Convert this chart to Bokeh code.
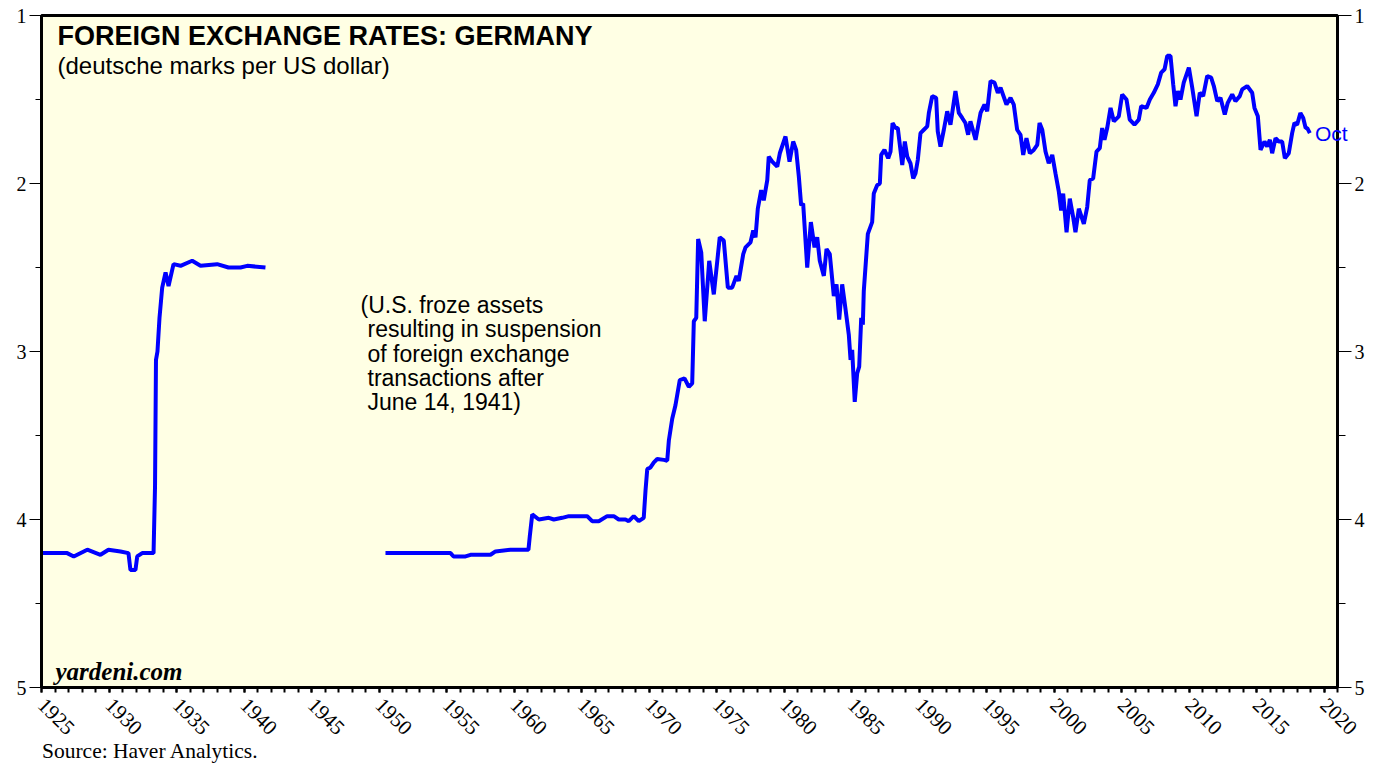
import math
from bokeh.plotting import figure
from bokeh.models import Range1d, LinearAxis, FixedTicker, Label, Div
from bokeh.layouts import column
from bokeh.embed import file_html
from bokeh.resources import INLINE

# ---------------- data ----------------
years_prewar = [1925.00, 1926.90, 1927.39, 1928.39, 1929.37, 1929.96, 1930.85, 1931.44,
                1931.59, 1931.96, 1932.09, 1932.46, 1933.30, 1933.41, 1933.48, 1933.59,
                1933.74, 1933.94, 1934.19, 1934.41, 1934.78, 1935.30, 1936.16, 1936.78,
                1938.01, 1938.85, 1939.74, 1940.24, 1941.59]
dm_prewar = [4.20, 4.20, 4.22, 4.18, 4.21, 4.18, 4.19, 4.20,
             4.30, 4.30, 4.22, 4.20, 4.20, 3.80, 3.05, 3.00,
             2.80, 2.62, 2.53, 2.61, 2.48, 2.49, 2.46, 2.49,
             2.48, 2.50, 2.50, 2.49, 2.50]

years_postwar = [
    1950.48, 1955.30, 1955.52, 1956.41, 1956.78, 1958.26, 1958.63, 1959.74, 1961.07, 1961.17,
    1961.35, 1961.84, 1962.58, 1962.95, 1963.57, 1964.06, 1965.42, 1965.79, 1966.28, 1966.90,
    1967.39, 1967.76, 1968.26, 1968.50, 1968.87, 1969.24, 1969.61, 1969.74, 1969.87, 1970.11,
    1970.36, 1970.61, 1971.10, 1971.35, 1971.47, 1971.72, 1971.96, 1972.28, 1972.63, 1972.95,
    1973.20, 1973.32, 1973.50, 1973.64, 1973.87, 1974.13, 1974.46, 1974.80, 1975.24, 1975.54,
    1975.84, 1976.16, 1976.48, 1976.65, 1976.98, 1977.15, 1977.52, 1977.72, 1977.89, 1978.06,
    1978.31, 1978.50, 1978.76, 1978.87, 1979.13, 1979.50, 1979.69, 1980.11, 1980.41, 1980.68,
    1980.90, 1981.10, 1981.27, 1981.42, 1981.72, 1981.99, 1982.26, 1982.46, 1982.65, 1982.95,
    1983.15, 1983.39, 1983.69, 1983.89, 1984.09, 1984.31, 1984.56, 1984.80, 1984.93, 1985.05,
    1985.24, 1985.42, 1985.57, 1985.72, 1985.84, 1985.91, 1986.21, 1986.53, 1986.65, 1986.90,
    1987.10, 1987.20, 1987.44, 1987.72, 1987.89, 1988.04, 1988.26, 1988.43, 1988.76, 1988.95,
    1989.13, 1989.37, 1989.57, 1989.74, 1989.91, 1990.11, 1990.36, 1990.61, 1990.73, 1990.98,
    1991.27, 1991.39, 1991.59, 1991.84, 1992.09, 1992.33, 1992.70, 1992.95, 1993.20, 1993.44,
    1993.64, 1993.81, 1994.19, 1994.56, 1994.85, 1995.05, 1995.30, 1995.59, 1995.84, 1996.04,
    1996.48, 1996.78, 1997.02, 1997.27, 1997.52, 1997.72, 1997.96, 1998.21, 1998.50, 1998.76,
    1998.93, 1999.13, 1999.37, 1999.61, 1999.87, 2000.11, 2000.36, 2000.53, 2000.68, 2000.93,
    2001.17, 2001.42, 2001.59, 2001.84, 2002.21, 2002.46, 2002.65, 2002.90, 2003.15, 2003.39,
    2003.57, 2003.74, 2003.94, 2004.19, 2004.43, 2004.80, 2005.05, 2005.37, 2005.61, 2005.96,
    2006.28, 2006.46, 2006.85, 2007.10, 2007.39, 2007.69, 2007.94, 2008.19, 2008.39, 2008.63,
    2008.83, 2009.00, 2009.17, 2009.37, 2009.61, 2009.99, 2010.24, 2010.56, 2010.80, 2011.05,
    2011.35, 2011.64, 2011.84, 2012.09, 2012.33, 2012.65, 2012.87, 2013.20, 2013.44, 2013.76,
    2013.94, 2014.31, 2014.68, 2014.85, 2015.10, 2015.30, 2015.59, 2015.79, 2015.99, 2016.16,
    2016.41, 2016.65, 2016.90, 2017.10, 2017.39, 2017.64, 2017.81, 2018.01, 2018.25, 2018.46,
    2018.64, 2018.76, 2018.95]
dm_postwar = [
    4.20, 4.20, 4.22, 4.22, 4.21, 4.21, 4.19, 4.18, 4.18, 4.10,
    3.97, 4.00, 3.99, 4.00, 3.99, 3.98, 3.98, 4.01, 4.01, 3.98,
    3.98, 4.00, 4.00, 4.01, 3.98, 4.01, 3.99, 3.83, 3.70, 3.69,
    3.66, 3.64, 3.645, 3.65, 3.53, 3.40, 3.32, 3.17, 3.16, 3.21,
    3.19, 2.82, 2.80, 2.33, 2.41, 2.82, 2.46, 2.66, 2.32, 2.34,
    2.62, 2.62, 2.55, 2.58, 2.42, 2.38, 2.35, 2.28, 2.32, 2.15,
    2.04, 2.10, 1.98, 1.84, 1.87, 1.90, 1.82, 1.72, 1.87, 1.75,
    1.80, 1.96, 2.13, 2.12, 2.50, 2.23, 2.38, 2.32, 2.46, 2.55,
    2.39, 2.42, 2.67, 2.60, 2.81, 2.60, 2.75, 2.90, 3.05, 2.99,
    3.30, 3.13, 3.09, 2.80, 2.84, 2.64, 2.30, 2.23, 2.06, 2.01,
    2.00, 1.83, 1.80, 1.85, 1.81, 1.64, 1.67, 1.67, 1.89, 1.75,
    1.84, 1.88, 1.97, 1.94, 1.86, 1.70, 1.68, 1.66, 1.58, 1.48,
    1.49, 1.69, 1.78, 1.68, 1.57, 1.65, 1.45, 1.58, 1.61, 1.64,
    1.71, 1.63, 1.74, 1.58, 1.53, 1.57, 1.39, 1.40, 1.46, 1.43,
    1.53, 1.49, 1.53, 1.68, 1.71, 1.83, 1.73, 1.82, 1.80, 1.77,
    1.64, 1.68, 1.81, 1.88, 1.83, 1.94, 2.05, 2.16, 2.06, 2.29,
    2.09, 2.20, 2.29, 2.15, 2.24, 2.14, 1.98, 1.97, 1.81, 1.79,
    1.67, 1.74, 1.67, 1.55, 1.63, 1.60, 1.47, 1.50, 1.62, 1.65,
    1.62, 1.54, 1.55, 1.50, 1.46, 1.41, 1.34, 1.32, 1.24, 1.24,
    1.41, 1.54, 1.45, 1.50, 1.40, 1.31, 1.43, 1.60, 1.46, 1.48,
    1.36, 1.37, 1.42, 1.51, 1.49, 1.59, 1.52, 1.47, 1.51, 1.48,
    1.44, 1.42, 1.46, 1.55, 1.60, 1.80, 1.75, 1.78, 1.74, 1.82,
    1.73, 1.75, 1.75, 1.85, 1.82, 1.70, 1.64, 1.65, 1.58, 1.61,
    1.67, 1.67, 1.70]

x_major_ticks = [1925, 1930, 1935, 1940, 1945, 1950, 1955, 1960, 1965, 1970,
                 1975, 1980, 1985, 1990, 1995, 2000, 2005, 2010, 2015, 2020]
x_minor_ticks = list(range(1925, 2022))
y_major_ticks = [1, 2, 3, 4, 5]
y_minor_ticks = [1.5, 2.5, 3.5, 4.5]

title_text = "FOREIGN EXCHANGE RATES: GERMANY"
subtitle_text = "(deutsche marks per US dollar)"
note_lines = ["(U.S. froze assets", "resulting in suspension", "of foreign exchange",
              "transactions after", "June 14, 1941)"]
last_label = "Oct"
source_text = "Source: Haver Analytics."
brand_text = "yardeni.com"

# ---------------- figure ----------------
BLUE = "#0000FF"
SANS = "Liberation Sans"
SERIF = "Liberation Serif"

p = figure(width=1372, height=757,
           x_range=Range1d(1925, 2021), y_range=Range1d(5, 1),
           output_backend="svg", toolbar_location=None,
           min_border_left=41, min_border_right=35, min_border_top=15, min_border_bottom=70,
           background_fill_color="#FFFFE4", border_fill_color="white")
p.xgrid.visible = False
p.ygrid.visible = False
p.outline_line_color = "black"
p.outline_line_width = 3

# x axis
xa = p.xaxis[0]
xa.ticker = FixedTicker(ticks=x_major_ticks, minor_ticks=x_minor_ticks)
xa.major_tick_in = 0
xa.major_tick_out = 5
xa.minor_tick_in = 0
xa.minor_tick_out = 5
xa.major_tick_line_width = 2
xa.minor_tick_line_width = 2
xa.axis_line_width = 3
xa.major_label_orientation = -math.pi / 4
xa.major_label_text_font = SERIF
xa.major_label_text_font_size = "21px"
xa.major_label_text_color = "black"
xa.major_label_standoff = 9

# y axes
def style_y(ax, major_out, minor_out):
    ax.ticker = FixedTicker(ticks=y_major_ticks, minor_ticks=y_minor_ticks)
    ax.major_tick_in = 0
    ax.major_tick_out = major_out
    ax.minor_tick_in = 0
    ax.minor_tick_out = minor_out
    ax.major_tick_line_width = 1
    ax.minor_tick_line_width = 1
    ax.axis_line_width = 3
    ax.major_label_text_font = SERIF
    ax.major_label_text_font_size = "20px"
    ax.major_label_text_color = "black"
    ax.major_label_standoff = 3

style_y(p.yaxis[0], 12, 6)
ry = LinearAxis()
style_y(ry, 14, 8)
p.add_layout(ry, "right")

# lines
p.line(years_prewar, dm_prewar, line_color=BLUE, line_width=4)
p.line(years_postwar, dm_postwar, line_color=BLUE, line_width=4)

# texts inside the frame
p.add_layout(Label(x=1925, y=1, x_offset=16, y_offset=-20, text=title_text,
                   text_font=SANS, text_font_style="bold", text_font_size="27px",
                   text_color="black", text_baseline="alphabetic"))
p.add_layout(Label(x=1925, y=1, x_offset=16, y_offset=-50, text=subtitle_text,
                   text_font=SANS, text_font_size="24px",
                   text_color="black", text_baseline="alphabetic"))
for i, line in enumerate(note_lines):
    p.add_layout(Label(x=1925, y=1, x_offset=319 if i == 0 else 326,
                       y_offset=-(289 + round(24.3 * i)), text=line,
                       text_font=SANS, text_font_size="23px",
                       text_color="black", text_baseline="alphabetic"))
p.add_layout(Label(x=1925, y=5, x_offset=14, y_offset=16, text=brand_text,
                   text_font=SERIF, text_font_style="bold italic", text_font_size="25px",
                   text_color="black", text_baseline="alphabetic"))

# texts that sit outside / across the frame edge
source_div = Div(text=source_text, width=420, height=24, margin=(-16, 0, 0, 42),
                 styles={"position": "relative", "z-index": "5",
                         "font-family": SERIF, "font-size": "21.5px",
                         "line-height": "21px", "color": "black"})
oct_div = Div(text=last_label, width=45, height=24, margin=(-642, 0, 0, 1315),
              styles={"position": "relative", "z-index": "5",
                      "font-family": SANS, "font-size": "21px",
                      "line-height": "21px", "color": BLUE})

layout = column(p, source_div, oct_div, spacing=0)
open("out.html", "w").write(file_html(layout, INLINE))
